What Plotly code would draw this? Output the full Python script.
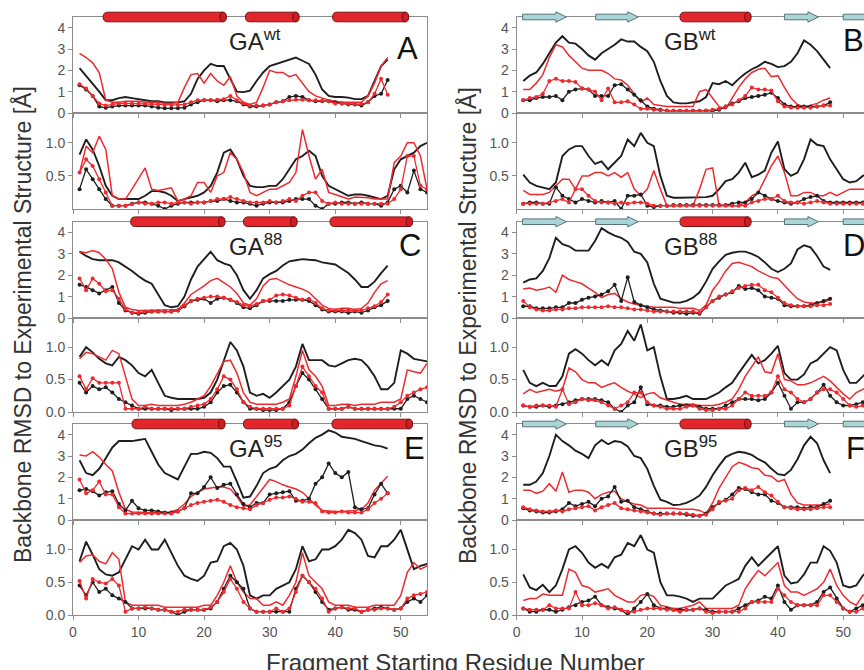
import plotly.graph_objects as go

# ---------------- data ----------------
# Top panels: fragment start 1..48 ; bottom panels: fragment start 1..54
A_top_black = [2.1, 1.75, 1.4, 1.0, 0.6, 0.6, 0.7, 0.75, 0.7, 0.65, 0.6, 0.55, 0.55, 0.5, 0.5, 0.5, 0.55, 0.9, 1.6, 2.0, 2.3, 2.2, 2.2, 1.6, 1.0, 0.98, 1.05, 1.5, 1.9, 2.2, 2.3, 2.4, 2.5, 2.6, 2.45, 2.3, 1.8, 1.1, 0.8, 0.75, 0.75, 0.72, 0.65, 0.65, 0.8, 1.5, 2.2, 2.5]
A_top_red = [2.8, 2.6, 2.35, 1.9, 0.6, 0.5, 0.5, 0.55, 0.55, 0.55, 0.5, 0.5, 0.5, 0.45, 0.45, 0.5, 1.2, 1.8, 1.85, 1.4, 1.85, 1.5, 1.3, 1.7, 0.8, 0.5, 0.4, 0.5, 1.2, 2.0, 1.9, 1.9, 1.7, 1.8, 1.4, 1.0, 0.8, 0.7, 0.6, 0.55, 0.5, 0.5, 0.5, 0.5, 0.8, 1.4, 2.2, 2.6]
A_top_black_dots = [1.3, 1.1, 0.8, 0.3, 0.25, 0.3, 0.35, 0.35, 0.35, 0.35, 0.35, 0.3, 0.25, 0.22, 0.22, 0.22, 0.25, 0.4, 0.5, 0.6, 0.6, 0.55, 0.6, 0.6, 0.55, 0.4, 0.3, 0.3, 0.35, 0.4, 0.5, 0.55, 0.75, 0.8, 0.75, 0.6, 0.55, 0.55, 0.55, 0.5, 0.45, 0.4, 0.4, 0.35, 0.5, 0.8, 0.9, 1.55]
A_top_red_dots = [1.35, 1.15, 0.8, 0.45, 0.35, 0.4, 0.45, 0.45, 0.45, 0.45, 0.45, 0.42, 0.4, 0.38, 0.38, 0.38, 0.4, 0.5, 0.6, 0.6, 0.6, 0.62, 0.65, 0.8, 0.6, 0.45, 0.35, 0.35, 0.35, 0.4, 0.5, 0.55, 0.6, 0.62, 0.62, 0.6, 0.6, 0.58, 0.55, 0.45, 0.45, 0.42, 0.42, 0.42, 0.5, 0.9, 1.6, 0.85]
A_bot_black = [0.82, 1.05, 0.9, 0.65, 0.35, 0.2, 0.15, 0.15, 0.15, 0.15, 0.2, 0.27, 0.27, 0.25, 0.2, 0.12, 0.15, 0.17, 0.2, 0.25, 0.35, 0.55, 0.85, 0.9, 0.75, 0.5, 0.35, 0.33, 0.33, 0.35, 0.35, 0.45, 0.6, 0.75, 0.8, 0.88, 0.8, 0.5, 0.35, 0.3, 0.25, 0.2, 0.22, 0.22, 0.2, 0.17, 0.15, 0.2, 0.6, 0.75, 0.8, 0.85, 0.95, 1.0]
A_bot_red = [0.55, 0.95, 0.85, 1.1, 0.9, 0.2, 0.15, 0.15, 0.3, 0.45, 0.62, 0.3, 0.28, 0.3, 0.32, 0.12, 0.15, 0.2, 0.4, 0.4, 0.25, 0.5, 0.55, 0.85, 0.75, 0.55, 0.25, 0.2, 0.25, 0.3, 0.3, 0.35, 0.4, 0.55, 1.2, 0.8, 0.45, 0.6, 0.25, 0.22, 0.18, 0.15, 0.18, 0.18, 0.17, 0.15, 0.15, 0.15, 0.7, 0.8, 1.0, 1.0, 0.8, 0.3]
A_bot_black_dots = [0.3, 0.6, 0.45, 0.3, 0.15, 0.05, 0.05, 0.05, 0.08, 0.1, 0.1, 0.08, 0.05, 0.0, 0.05, 0.08, 0.1, 0.1, 0.1, 0.1, 0.12, 0.12, 0.15, 0.12, 0.1, 0.1, 0.08, 0.05, 0.08, 0.1, 0.1, 0.1, 0.12, 0.15, 0.15, 0.15, 0.05, 0.0, 0.08, 0.08, 0.1, 0.1, 0.08, 0.1, 0.08, 0.08, 0.05, 0.1, 0.3, 0.35, 0.25, 0.58, 0.3, 0.25]
A_bot_red_dots = [0.55, 0.75, 0.65, 0.45, 0.25, 0.05, 0.05, 0.05, 0.07, 0.1, 0.08, 0.08, 0.1, 0.1, 0.08, 0.1, 0.1, 0.08, 0.1, 0.1, 0.12, 0.15, 0.15, 0.18, 0.15, 0.12, 0.1, 0.1, 0.1, 0.12, 0.1, 0.12, 0.15, 0.12, 0.2, 0.25, 0.25, 0.12, 0.08, 0.1, 0.08, 0.08, 0.08, 0.08, 0.08, 0.08, 0.08, 0.08, 0.15, 0.3, 0.8, 0.8, 0.35, 0.3]

B_top_black = [1.5, 1.75, 1.9, 2.3, 2.8, 3.3, 3.6, 3.3, 3.25, 3.0, 2.7, 2.5, 2.8, 3.0, 3.2, 3.45, 3.35, 3.35, 3.1, 2.9, 2.4, 1.5, 0.8, 0.5, 0.45, 0.45, 0.5, 0.55, 0.75, 1.4, 1.35, 1.5, 1.3, 1.6, 1.85, 2.05, 2.2, 2.4, 2.3, 2.15, 2.2, 2.4, 2.8, 3.4, 3.2, 2.9, 2.5, 2.1]
B_top_red = [1.1, 1.1, 1.4, 1.8, 2.6, 3.2, 3.1, 2.7, 2.4, 2.1, 2.0, 2.0, 2.0, 1.85, 1.6, 1.55, 1.3, 0.9, 0.5, 0.7, 0.4, 0.35, 0.3, 0.3, 0.3, 0.3, 0.3, 1.0, 1.1, 0.7, 0.3, 0.2, 0.7, 1.2, 1.6, 1.9, 2.05, 2.1, 1.7, 1.75, 1.2, 0.7, 0.4, 0.3, 0.35, 0.45, 0.6, 0.7]
B_top_black_dots = [0.6, 0.6, 0.7, 0.75, 0.75, 0.8, 0.6, 1.0, 1.1, 1.15, 1.1, 0.8, 0.8, 0.8, 1.3, 1.35, 1.1, 0.85, 0.6, 0.3, 0.2, 0.15, 0.1, 0.1, 0.1, 0.1, 0.1, 0.1, 0.1, 0.1, 0.15, 0.3, 0.45, 0.55, 0.7, 0.75, 0.8, 0.85, 0.95, 0.7, 0.4, 0.3, 0.3, 0.3, 0.3, 0.3, 0.35, 0.5]
B_top_red_dots = [0.6, 0.7, 0.75, 0.9, 1.5, 1.6, 1.5, 1.5, 1.45, 1.15, 1.1, 1.0, 0.6, 1.15, 0.5, 0.5, 0.55, 0.4, 0.2, 0.2, 0.15, 0.12, 0.12, 0.1, 0.1, 0.1, 0.1, 0.1, 0.12, 0.15, 0.2, 0.3, 0.4, 0.6, 0.8, 1.2, 1.1, 1.1, 1.05, 0.55, 0.3, 0.25, 0.25, 0.25, 0.25, 0.3, 0.35, 0.35]
B_bot_black = [0.52, 0.4, 0.35, 0.33, 0.3, 0.4, 0.8, 0.9, 0.95, 0.95, 0.8, 0.68, 0.72, 0.6, 0.7, 0.8, 1.05, 0.95, 1.15, 1.0, 0.95, 0.5, 0.2, 0.17, 0.17, 0.17, 0.17, 0.17, 0.18, 0.2, 0.3, 0.42, 0.45, 0.55, 0.7, 0.48, 0.52, 0.58, 0.85, 1.02, 0.6, 0.5, 0.55, 0.75, 1.05, 0.97, 0.95, 0.75, 0.6, 0.45, 0.4, 0.42, 0.5, 0.55]
B_bot_red = [0.28, 0.22, 0.22, 0.22, 0.25, 0.35, 0.45, 0.45, 0.3, 0.5, 0.5, 0.55, 0.55, 0.5, 0.55, 0.48, 0.55, 0.3, 0.2, 0.3, 0.58, 0.3, 0.05, 0.05, 0.05, 0.05, 0.05, 0.3, 0.6, 0.62, 0.05, 0.05, 0.05, 0.05, 0.1, 0.2, 0.25, 0.45, 0.65, 0.8, 0.55, 0.2, 0.2, 0.25, 0.25, 0.2, 0.2, 0.25, 0.2, 0.25, 0.3, 0.3, 0.3, 0.3]
B_bot_black_dots = [0.08, 0.1, 0.1, 0.08, 0.08, 0.33, 0.2, 0.15, 0.1, 0.15, 0.12, 0.1, 0.12, 0.1, 0.12, 0.0, 0.2, 0.2, 0.22, 0.05, 0.03, 0.05, 0.05, 0.06, 0.06, 0.06, 0.06, 0.06, 0.06, 0.06, 0.06, 0.06, 0.08, 0.1, 0.1, 0.15, 0.25, 0.2, 0.15, 0.12, 0.1, 0.08, 0.1, 0.15, 0.18, 0.2, 0.12, 0.1, 0.1, 0.1, 0.1, 0.1, 0.1, 0.1]
B_bot_red_dots = [0.08, 0.08, 0.08, 0.08, 0.1, 0.12, 0.15, 0.1, 0.3, 0.3, 0.2, 0.12, 0.1, 0.1, 0.08, 0.1, 0.08, 0.1, 0.1, 0.08, 0.05, 0.05, 0.05, 0.05, 0.05, 0.05, 0.05, 0.05, 0.05, 0.05, 0.05, 0.05, 0.05, 0.05, 0.05, 0.1, 0.12, 0.15, 0.15, 0.2, 0.12, 0.1, 0.1, 0.08, 0.1, 0.12, 0.1, 0.08, 0.08, 0.08, 0.08, 0.08, 0.08, 0.08]

C_top_black = [3.1, 2.9, 2.75, 2.7, 2.7, 2.7, 2.6, 2.4, 2.2, 1.95, 1.75, 1.6, 1.1, 0.6, 0.5, 0.55, 1.0, 1.8, 2.4, 2.75, 3.1, 2.7, 2.55, 2.45, 2.0, 1.3, 0.9, 1.3, 1.85, 2.05, 2.2, 2.45, 2.65, 2.7, 2.75, 2.72, 2.7, 2.6, 2.55, 2.5, 2.3, 2.1, 1.8, 1.45, 1.45, 1.7, 2.1, 2.45]
C_top_red = [3.1, 3.05, 3.15, 3.05, 2.75, 2.3, 1.2, 0.5, 0.4, 0.35, 0.35, 0.35, 0.38, 0.38, 0.38, 0.4, 0.7, 1.1, 1.3, 1.5, 1.75, 1.85, 1.65, 1.45, 1.15, 0.7, 0.6, 0.9, 1.5, 1.8, 1.85, 1.7, 1.55, 1.45, 1.35, 1.2, 0.9, 0.6, 0.45, 0.4, 0.45, 0.45, 0.4, 0.45, 0.7, 1.2, 1.6, 1.75]
C_top_black_dots = [1.55, 1.45, 1.3, 1.15, 1.3, 1.45, 0.7, 0.35, 0.25, 0.2, 0.25, 0.3, 0.3, 0.3, 0.3, 0.35, 0.55, 0.8, 0.85, 0.9, 0.7, 0.9, 0.95, 0.85, 0.7, 0.5, 0.45, 0.6, 0.8, 0.8, 0.8, 0.8, 0.85, 0.85, 0.85, 0.8, 0.6, 0.4, 0.3, 0.3, 0.3, 0.25, 0.3, 0.25, 0.35, 0.5, 0.6, 0.8]
C_top_red_dots = [1.85, 1.3, 1.85, 1.6, 1.25, 1.3, 0.9, 0.4, 0.25, 0.25, 0.3, 0.3, 0.3, 0.3, 0.3, 0.35, 0.6, 0.8, 0.9, 0.95, 1.0, 1.0, 0.95, 0.85, 0.75, 0.6, 0.55, 0.65, 0.8, 0.85, 1.05, 1.1, 1.05, 0.95, 0.85, 0.9, 0.7, 0.45, 0.35, 0.35, 0.35, 0.35, 0.35, 0.35, 0.45, 0.55, 0.75, 1.1]
C_bot_black = [0.85, 1.0, 0.92, 0.82, 0.75, 0.72, 0.85, 0.8, 0.72, 0.6, 0.55, 0.65, 0.45, 0.25, 0.22, 0.2, 0.2, 0.2, 0.2, 0.22, 0.3, 0.5, 0.8, 1.08, 0.95, 0.7, 0.3, 0.25, 0.28, 0.22, 0.3, 0.4, 0.5, 0.7, 1.05, 0.8, 0.8, 0.8, 0.72, 0.7, 0.75, 0.8, 0.82, 0.8, 0.7, 0.55, 0.35, 0.35, 0.45, 0.95, 0.9, 0.82, 0.8, 0.78]
C_bot_red = [0.82, 0.92, 0.9, 0.85, 0.8, 0.95, 0.9, 0.55, 0.2, 0.1, 0.1, 0.12, 0.1, 0.1, 0.1, 0.1, 0.12, 0.15, 0.2, 0.25, 0.4, 0.6, 0.78, 0.8, 0.6, 0.3, 0.15, 0.12, 0.12, 0.12, 0.12, 0.15, 0.2, 0.55, 0.95, 0.65, 0.55, 0.4, 0.1, 0.1, 0.12, 0.12, 0.1, 0.12, 0.12, 0.12, 0.15, 0.15, 0.15, 0.2, 0.65, 0.62, 0.6, 0.75]
C_bot_black_dots = [0.45, 0.3, 0.4, 0.35, 0.38, 0.3, 0.2, 0.15, 0.1, 0.05, 0.05, 0.05, 0.05, 0.05, 0.03, 0.05, 0.05, 0.05, 0.05, 0.08, 0.15, 0.3, 0.4, 0.42, 0.3, 0.15, 0.05, 0.05, 0.03, 0.03, 0.03, 0.05, 0.15, 0.4, 0.6, 0.5, 0.35, 0.2, 0.05, 0.05, 0.05, 0.08, 0.05, 0.05, 0.05, 0.05, 0.05, 0.05, 0.05, 0.05, 0.2, 0.25, 0.2, 0.15]
C_bot_red_dots = [0.55, 0.35, 0.52, 0.45, 0.45, 0.45, 0.45, 0.05, 0.05, 0.05, 0.08, 0.05, 0.05, 0.05, 0.05, 0.05, 0.05, 0.08, 0.1, 0.12, 0.2, 0.35, 0.55, 0.5, 0.35, 0.15, 0.08, 0.05, 0.05, 0.05, 0.05, 0.05, 0.1, 0.4, 0.7, 0.55, 0.4, 0.3, 0.05, 0.05, 0.05, 0.08, 0.05, 0.05, 0.05, 0.05, 0.05, 0.05, 0.08, 0.15, 0.25, 0.3, 0.35, 0.38]

D_top_black = [1.65, 1.8, 1.85, 2.2, 2.8, 3.75, 3.45, 3.35, 3.15, 3.15, 3.15, 3.6, 4.2, 4.0, 3.85, 3.75, 3.55, 3.1, 3.0, 2.6, 1.6, 0.9, 0.8, 0.72, 0.72, 0.8, 0.95, 1.2, 1.7, 2.3, 2.65, 2.95, 3.05, 3.1, 3.1, 3.0, 2.85, 2.6, 2.3, 2.15, 2.3, 2.55, 3.2, 3.4, 3.3, 2.9, 2.4, 2.25]
D_top_red = [1.35, 1.4, 1.3, 1.35, 1.45, 1.2, 2.0, 1.8, 1.7, 1.6, 1.4, 1.2, 0.95, 1.1, 1.15, 0.9, 0.75, 0.65, 0.6, 0.55, 0.5, 0.5, 0.5, 0.5, 0.45, 0.45, 0.45, 0.35, 0.6, 1.3, 1.7, 2.2, 2.55, 2.6, 2.5, 2.4, 2.2, 2.05, 1.9, 1.85, 1.5, 1.2, 0.9, 0.75, 0.7, 0.7, 0.75, 0.85]
D_top_black_dots = [0.55, 0.55, 0.45, 0.45, 0.45, 0.5, 0.5, 0.7, 0.7, 0.85, 0.95, 1.0, 1.1, 1.25, 1.55, 0.8, 1.9, 0.75, 0.6, 0.5, 0.4, 0.35, 0.3, 0.25, 0.25, 0.2, 0.25, 0.2, 0.5, 0.8, 0.95, 1.1, 1.2, 1.5, 1.35, 1.4, 1.3, 1.0, 0.95, 0.9, 0.6, 0.55, 0.55, 0.55, 0.6, 0.7, 0.8, 0.9]
D_top_red_dots = [0.8, 0.5, 0.4, 0.35, 0.35, 0.4, 0.4, 0.45, 0.45, 0.5, 0.5, 0.5, 0.5, 0.55, 0.5, 0.5, 0.45, 0.4, 0.4, 0.35, 0.3, 0.3, 0.3, 0.3, 0.3, 0.3, 0.3, 0.25, 0.5, 0.8, 1.0, 1.1, 1.25, 1.4, 1.5, 1.55, 1.55, 1.3, 1.2, 0.95, 0.7, 0.6, 0.55, 0.55, 0.55, 0.6, 0.6, 0.65]
D_bot_black = [0.65, 0.45, 0.4, 0.45, 0.4, 0.4, 0.55, 0.9, 0.97, 0.9, 0.8, 0.72, 0.8, 0.72, 0.95, 1.05, 1.25, 1.1, 1.35, 0.95, 1.0, 0.55, 0.2, 0.2, 0.22, 0.25, 0.2, 0.2, 0.2, 0.25, 0.3, 0.38, 0.45, 0.6, 0.75, 0.88, 0.75, 0.8, 0.9, 1.02, 0.6, 0.5, 0.5, 0.58, 0.75, 0.8, 0.9, 1.0, 0.95, 0.65, 0.45, 0.45, 0.55, 0.65]
D_bot_red = [0.28, 0.35, 0.3, 0.32, 0.35, 0.32, 0.35, 0.68, 0.62, 0.5, 0.45, 0.45, 0.38, 0.42, 0.45, 0.38, 0.32, 0.28, 0.22, 0.28, 0.3, 0.22, 0.18, 0.15, 0.12, 0.12, 0.12, 0.1, 0.1, 0.1, 0.12, 0.15, 0.2, 0.35, 0.55, 0.7, 0.85, 0.62, 0.6, 0.9, 0.5, 0.48, 0.42, 0.42, 0.45, 0.5, 0.55, 0.48, 0.38, 0.28, 0.2, 0.3, 0.35, 0.4]
D_bot_black_dots = [0.1, 0.08, 0.08, 0.1, 0.08, 0.1, 0.12, 0.15, 0.18, 0.2, 0.2, 0.2, 0.18, 0.15, 0.05, 0.0, 0.1, 0.15, 0.38, 0.12, 0.1, 0.1, 0.08, 0.08, 0.1, 0.1, 0.1, 0.08, 0.05, 0.05, 0.05, 0.1, 0.15, 0.2, 0.2, 0.2, 0.18, 0.2, 0.3, 0.45, 0.25, 0.05, 0.15, 0.15, 0.2, 0.3, 0.42, 0.25, 0.15, 0.1, 0.1, 0.12, 0.15, 0.2]
D_bot_red_dots = [0.1, 0.08, 0.1, 0.1, 0.1, 0.08, 0.35, 0.12, 0.15, 0.2, 0.18, 0.18, 0.15, 0.1, 0.05, 0.1, 0.15, 0.3, 0.3, 0.15, 0.1, 0.08, 0.05, 0.05, 0.05, 0.08, 0.1, 0.05, 0.03, 0.03, 0.05, 0.05, 0.1, 0.2, 0.3, 0.25, 0.25, 0.25, 0.3, 0.55, 0.35, 0.3, 0.2, 0.15, 0.2, 0.3, 0.35, 0.35, 0.3, 0.2, 0.1, 0.08, 0.1, 0.15]

E_top_black = [2.8, 2.2, 2.1, 2.4, 2.9, 3.4, 3.7, 3.7, 3.7, 3.75, 3.8, 3.2, 2.6, 2.2, 2.05, 1.9, 2.5, 3.1, 3.1, 3.2, 3.15, 2.9, 2.5, 2.5, 1.8, 1.05, 1.1, 1.6, 2.2, 2.4, 2.5, 2.8, 3.0, 3.1, 3.3, 3.6, 3.85, 4.0, 4.2, 4.1, 3.9, 3.85, 3.8, 3.7, 3.6, 3.5, 3.45, 3.35]
E_top_red = [3.05, 3.0, 3.2, 2.95, 2.6, 2.3, 1.3, 0.5, 0.38, 0.35, 0.35, 0.35, 0.35, 0.35, 0.38, 0.5, 0.75, 1.1, 1.3, 1.45, 1.5, 1.55, 1.55, 1.45, 1.1, 0.65, 0.7, 1.1, 1.5, 1.9, 1.8, 1.65, 1.55, 1.45, 1.3, 1.0, 0.7, 0.45, 0.42, 0.4, 0.4, 0.42, 0.45, 0.5, 0.8, 1.4, 1.75, 2.05]
E_top_black_dots = [1.4, 1.45, 1.35, 1.15, 1.3, 1.35, 0.75, 0.45, 0.9, 0.55, 0.45, 0.45, 0.4, 0.35, 0.35, 0.4, 0.55, 1.25, 1.25, 1.55, 2.0, 1.5, 1.65, 1.7, 1.2, 0.75, 0.6, 0.8, 0.8, 1.2, 1.25, 1.3, 1.35, 0.9, 0.9, 1.0, 1.7, 2.0, 2.65, 2.2, 2.0, 2.25, 0.6, 0.5, 0.55, 1.2, 1.7, 1.25]
E_top_red_dots = [1.9, 1.25, 1.4, 1.8, 1.2, 1.2, 0.6, 0.3, 0.3, 0.3, 0.3, 0.3, 0.3, 0.3, 0.3, 0.4, 0.55, 0.7, 0.8, 0.85, 0.9, 0.95, 0.85, 0.7, 0.6, 0.55, 0.5, 0.7, 0.8, 0.95, 1.05, 1.05, 1.1, 1.0, 0.85, 0.85, 0.8, 0.4, 0.35, 0.35, 0.4, 0.35, 0.35, 0.35, 0.5, 0.8, 1.0, 1.25]
E_bot_black = [0.82, 1.12, 0.92, 0.7, 0.62, 0.6, 0.65, 0.85, 1.05, 1.0, 1.15, 1.0, 1.0, 1.15, 0.95, 0.75, 0.6, 0.55, 0.52, 0.6, 0.8, 0.82, 1.05, 1.1, 1.0, 0.75, 0.3, 0.25, 0.3, 0.3, 0.4, 0.45, 0.5, 0.7, 1.05, 0.82, 0.85, 1.0, 1.0, 1.05, 1.15, 1.3, 1.25, 1.15, 0.9, 0.88, 1.05, 1.05, 1.15, 1.3, 1.0, 0.7, 0.75, 0.78]
E_bot_red = [0.8, 0.9, 0.92, 0.82, 0.78, 0.95, 0.85, 0.2, 0.15, 0.15, 0.15, 0.15, 0.15, 0.12, 0.12, 0.12, 0.12, 0.12, 0.12, 0.15, 0.15, 0.3, 0.5, 0.75, 0.5, 0.35, 0.25, 0.25, 0.15, 0.15, 0.2, 0.15, 0.3, 0.5, 0.95, 0.6, 0.5, 0.4, 0.2, 0.15, 0.15, 0.15, 0.12, 0.12, 0.12, 0.15, 0.15, 0.15, 0.15, 0.3, 0.65, 0.8, 0.7, 0.75]
E_bot_black_dots = [0.45, 0.3, 0.5, 0.35, 0.4, 0.3, 0.25, 0.2, 0.1, 0.1, 0.1, 0.1, 0.08, 0.08, 0.05, 0.0, 0.05, 0.08, 0.08, 0.08, 0.1, 0.2, 0.4, 0.6, 0.5, 0.4, 0.1, 0.05, 0.05, 0.05, 0.05, 0.05, 0.05, 0.4, 0.6, 0.5, 0.35, 0.2, 0.08, 0.1, 0.12, 0.08, 0.08, 0.05, 0.08, 0.1, 0.12, 0.1, 0.08, 0.1, 0.2, 0.25, 0.2, 0.3]
E_bot_red_dots = [0.52, 0.25, 0.55, 0.5, 0.48, 0.55, 0.45, 0.05, 0.1, 0.1, 0.12, 0.1, 0.08, 0.08, 0.05, 0.05, 0.08, 0.08, 0.08, 0.08, 0.12, 0.2, 0.35, 0.55, 0.4, 0.2, 0.1, 0.05, 0.05, 0.05, 0.1, 0.05, 0.1, 0.35, 0.6, 0.5, 0.4, 0.25, 0.05, 0.1, 0.12, 0.1, 0.1, 0.05, 0.08, 0.08, 0.1, 0.1, 0.08, 0.1, 0.25, 0.3, 0.32, 0.35]

F_top_black = [1.65, 1.65, 1.8, 2.2, 3.0, 4.0, 3.7, 3.5, 3.25, 3.1, 2.9, 3.5, 3.75, 3.55, 3.7, 3.65, 3.45, 3.0, 2.9, 2.4, 1.6, 0.95, 0.85, 0.7, 0.72, 0.8, 0.95, 1.15, 1.55, 2.1, 2.55, 2.95, 3.1, 3.2, 3.15, 3.05, 2.85, 2.7, 2.4, 2.15, 2.1, 2.35, 2.85, 3.5, 3.9, 3.6, 2.8, 2.2]
F_top_red = [1.4, 1.4, 1.25, 1.35, 1.7, 1.35, 2.25, 1.3, 1.4, 1.4, 1.3, 1.0, 1.2, 1.3, 1.35, 1.0, 0.85, 0.75, 0.7, 0.55, 0.55, 0.55, 0.55, 0.55, 0.5, 0.5, 0.5, 0.45, 0.3, 0.8, 1.5, 2.0, 2.5, 2.7, 2.6, 2.45, 2.4, 2.1, 2.05, 1.8, 1.9, 1.2, 0.8, 0.7, 0.7, 0.7, 0.7, 0.75]
F_top_black_dots = [0.55, 0.45, 0.4, 0.35, 0.35, 0.4, 0.5, 0.8, 0.65, 0.75, 0.85, 0.65, 1.0, 1.1, 1.55, 0.85, 0.9, 0.6, 0.5, 0.4, 0.3, 0.3, 0.3, 0.3, 0.3, 0.25, 0.2, 0.2, 0.3, 0.6, 0.8, 0.95, 1.2, 1.5, 1.45, 1.3, 1.2, 1.2, 0.9, 0.8, 0.6, 0.6, 0.6, 0.55, 0.6, 0.6, 0.75, 0.9]
F_top_red_dots = [0.6, 0.5, 0.45, 0.4, 0.4, 0.45, 0.4, 0.5, 0.55, 0.6, 0.65, 0.45, 0.6, 0.7, 0.8, 0.55, 0.5, 0.45, 0.4, 0.35, 0.3, 0.25, 0.3, 0.3, 0.3, 0.3, 0.25, 0.2, 0.25, 0.5, 0.85, 0.9, 1.0, 1.4, 1.5, 1.4, 1.55, 1.3, 1.15, 0.85, 0.6, 0.55, 0.5, 0.5, 0.5, 0.55, 0.6, 0.6]
F_bot_black = [0.62, 0.42, 0.38, 0.46, 0.35, 0.45, 0.7, 1.0, 1.05, 0.95, 0.8, 0.72, 0.78, 0.72, 0.88, 0.92, 1.1, 1.05, 1.22, 1.0, 0.95, 0.5, 0.3, 0.3, 0.28, 0.25, 0.2, 0.25, 0.25, 0.25, 0.35, 0.45, 0.5, 0.55, 0.75, 0.88, 0.75, 0.85, 0.95, 1.05, 0.6, 0.48, 0.5, 0.62, 0.8, 0.8, 1.05, 0.98, 0.8, 0.45, 0.42, 0.45, 0.6, 0.7]
F_bot_red = [0.22, 0.25, 0.25, 0.32, 0.3, 0.3, 0.3, 0.7, 0.65, 0.45, 0.42, 0.35, 0.38, 0.4, 0.3, 0.25, 0.2, 0.2, 0.3, 0.32, 0.28, 0.15, 0.12, 0.1, 0.1, 0.12, 0.15, 0.2, 0.1, 0.1, 0.1, 0.1, 0.1, 0.15, 0.4, 0.55, 0.68, 0.6, 0.7, 0.8, 0.45, 0.35, 0.35, 0.3, 0.35, 0.4, 0.5, 0.7, 0.45, 0.3, 0.2, 0.15, 0.3, 0.35]
F_bot_black_dots = [0.1, 0.05, 0.05, 0.08, 0.08, 0.05, 0.08, 0.12, 0.15, 0.2, 0.22, 0.28, 0.15, 0.12, 0.1, 0.08, 0.0, 0.1, 0.2, 0.32, 0.15, 0.1, 0.1, 0.08, 0.08, 0.08, 0.08, 0.1, 0.08, 0.05, 0.05, 0.05, 0.05, 0.1, 0.15, 0.2, 0.22, 0.28, 0.25, 0.45, 0.2, 0.08, 0.15, 0.15, 0.15, 0.2, 0.35, 0.42, 0.25, 0.1, 0.05, 0.1, 0.15, 0.2]
F_bot_red_dots = [0.1, 0.08, 0.08, 0.08, 0.15, 0.1, 0.1, 0.1, 0.35, 0.15, 0.15, 0.18, 0.15, 0.1, 0.12, 0.08, 0.05, 0.05, 0.08, 0.1, 0.1, 0.1, 0.08, 0.08, 0.05, 0.08, 0.08, 0.1, 0.05, 0.03, 0.05, 0.05, 0.05, 0.05, 0.1, 0.2, 0.2, 0.2, 0.2, 0.4, 0.3, 0.2, 0.15, 0.15, 0.15, 0.15, 0.3, 0.3, 0.2, 0.1, 0.05, 0.05, 0.1, 0.12]

# secondary-structure elements (residue ranges) shown above the top panels
GA_wt_helices = [(4.6, 22.9), (26.3, 34.0), (39.6, 50.7)]
GA_88_helices = [(8.8, 22.7), (26.0, 33.7), (39.2, 51.3)]
GA_95_helices = [(9.0, 22.7), (26.0, 33.9), (39.5, 51.3)]
GB_helices = [(25.0, 35.4)]
GB_strands = [(0.9, 7.6), (12.1, 18.6), (41.0, 46.2), (50.0, 55.5)]

panel_names = {"A": ("GA", "wt"), "B": ("GB", "wt"), "C": ("GA", "88"),
               "D": ("GB", "88"), "E": ("GA", "95"), "F": ("GB", "95")}

series = {
    "A": (A_top_black, A_top_red, A_top_black_dots, A_top_red_dots, A_bot_black, A_bot_red, A_bot_black_dots, A_bot_red_dots),
    "B": (B_top_black, B_top_red, B_top_black_dots, B_top_red_dots, B_bot_black, B_bot_red, B_bot_black_dots, B_bot_red_dots),
    "C": (C_top_black, C_top_red, C_top_black_dots, C_top_red_dots, C_bot_black, C_bot_red, C_bot_black_dots, C_bot_red_dots),
    "D": (D_top_black, D_top_red, D_top_black_dots, D_top_red_dots, D_bot_black, D_bot_red, D_bot_black_dots, D_bot_red_dots),
    "E": (E_top_black, E_top_red, E_top_black_dots, E_top_red_dots, E_bot_black, E_bot_red, E_bot_black_dots, E_bot_red_dots),
    "F": (F_top_black, F_top_red, F_top_black_dots, F_top_red_dots, F_bot_black, F_bot_red, F_bot_black_dots, F_bot_red_dots),
}
helices = {"A": GA_wt_helices, "C": GA_88_helices, "E": GA_95_helices,
           "B": GB_helices, "D": GB_helices, "F": GB_helices}
strands = {"A": [], "C": [], "E": [], "B": GB_strands, "D": GB_strands, "F": GB_strands}

# ---------------- styling / layout ----------------
OFF = 0          # body margin is removed by the post script below
W, H = 864 - OFF, 670 - OFF
FONT = "Liberation Sans, Arial, Helvetica, sans-serif"
BLACK = "#1e1e1e"
RED = "#ee2a2e"
FRAME = "#8c8c8c"
TICKC = "#555555"


def px(xs):
    return (xs - OFF) / W


def py(ys):
    return 1 - (ys - OFF) / H


col_px = {0: (73.0, 427.0), 1: (516.7, 864.0)}
col_range = {0: [0, 54], 1: [0, (864.0 - 516.7) / 6.53]}
row_px = [(17, 113), (113, 209), (221.7, 318), (318, 412), (424, 520), (520, 615)]
layout_pos = {"A": (0, 0), "C": (0, 1), "E": (0, 2), "B": (1, 0), "D": (1, 1), "F": (1, 2)}
letter_pos = {"A": (0.91, 0.67), "C": (0.915, 0.75), "E": (0.93, 0.74),
              "B": (0.935, 0.76), "D": (0.935, 0.75), "F": (0.942, 0.74)}

fig = go.Figure()
layout = dict(width=W, height=H, margin=dict(l=0, r=0, t=0, b=0, autoexpand=False),
              paper_bgcolor="white", plot_bgcolor="white", showlegend=False,
              font=dict(family=FONT, color=TICKC, size=14))
shapes, annotations = [], []


def ax_names(i):
    return ("x" if i == 1 else f"x{i}", "y" if i == 1 else f"y{i}",
            "xaxis" if i == 1 else f"xaxis{i}", "yaxis" if i == 1 else f"yaxis{i}")


for key, (col, pair) in layout_pos.items():
    s = series[key]
    for half in (0, 1):
        row = pair * 2 + half
        i = col * 6 + row + 1
        xr, yr, xk, yk = ax_names(i)
        x0p, x1p = col_px[col]
        t, b = row_px[row]
        layout[xk] = dict(domain=[px(x0p), min(1.0, px(x1p))], range=col_range[col], anchor=yr,
                          showline=True, linecolor=FRAME, linewidth=1, mirror=True,
                          ticks="outside", ticklen=4, tickcolor=FRAME,
                          tickvals=[0, 10, 20, 30, 40, 50], showticklabels=(row == 5),
                          tickfont=dict(size=14, color=TICKC, family=FONT),
                          showgrid=False, zeroline=False, fixedrange=True)
        if half == 0:
            yrange, tv, tt = [0, 4.5], [0, 1, 2, 3, 4], ["0", "1", "2", "3", "4"]
        else:
            yrange = [0, 1.45]
            if pair == 0:
                tv, tt = [0.5, 1.0], ["0.5", "1.0"]
            else:
                tv, tt = [0.0, 0.5, 1.0], ["0.0", "0.5", "1.0"]
        layout[yk] = dict(domain=[py(b), py(t)], range=yrange, anchor=xr,
                          showline=True, linecolor=FRAME, linewidth=1, mirror=(col == 0),
                          ticks="outside", ticklen=4, tickcolor=FRAME,
                          tickvals=tv, ticktext=tt,
                          tickfont=dict(size=14, color=TICKC, family=FONT),
                          showgrid=False, zeroline=False, fixedrange=True)
        vals = s[0:4] if half == 0 else s[4:8]
        styles = [(BLACK, 1.9, False), (RED, 1.5, False), (BLACK, 1.3, True), (RED, 1.3, True)]
        for v, (c, w, mk) in zip(vals, styles):
            fig.add_trace(go.Scatter(
                x=list(range(1, len(v) + 1)), y=v, xaxis=xr, yaxis=yr,
                mode="lines+markers" if mk else "lines",
                line=dict(color=c, width=w),
                marker=dict(size=4, color=c) if mk else None,
                hoverinfo="skip"))

        if half == 0:
            ytop = py(t)
            # secondary structure cartoon
            hh = 4.8 / H
            for (a, e) in helices[key]:
                r = 0.7
                path = (f"M {a + r},{ytop - hh} L {e},{ytop - hh} L {e},{ytop + hh} "
                        f"L {a + r},{ytop + hh} Q {a},{ytop + hh} {a},{ytop} "
                        f"Q {a},{ytop - hh} {a + r},{ytop - hh} Z")
                shapes.append(dict(type="path", path=path, xref=xr, yref="paper",
                                   fillcolor="#e3262b", line=dict(color="#7a1414", width=1),
                                   layer="above"))
                shapes.append(dict(type="circle", xref=xr, yref="paper",
                                   x0=e - 0.5, x1=e + 0.5, y0=ytop - hh, y1=ytop + hh,
                                   fillcolor="#d01c22", line=dict(color="#6a1010", width=1),
                                   layer="above"))
            hb, hd, hl = 2.8 / H, 5.2 / H, 1.6
            for (a, e) in strands[key]:
                path = (f"M {a},{ytop - hb} L {e - hl},{ytop - hb} L {e - hl},{ytop - hd} "
                        f"L {e},{ytop} L {e - hl},{ytop + hd} L {e - hl},{ytop + hb} "
                        f"L {a},{ytop + hb} Z")
                shapes.append(dict(type="path", path=path, xref=xr, yref="paper",
                                   fillcolor="#a9d4d8", line=dict(color="#5b7274", width=1),
                                   layer="above"))
            name, sup = panel_names[key]
            annotations.append(dict(text=f"{name}<sup>{sup}</sup>", xref=f"{xr} domain",
                                    yref=f"{yr} domain", x=0.515 if col == 0 else 0.5, y=0.76,
                                    xanchor="center", yanchor="middle", showarrow=False,
                                    font=dict(size=24, color="#222222", family=FONT)))
            lx, ly = letter_pos[key]
            annotations.append(dict(text=key, xref=f"{xr} domain", yref=f"{yr} domain",
                                    x=lx, y=ly, xanchor="left", yanchor="middle",
                                    showarrow=False,
                                    font=dict(size=31, color="#111111", family=FONT)))

ytitle = "Backbone RMSD to Experimental Structure [Å]"
for xc in (23, 468):
    annotations.append(dict(text=ytitle, xref="paper", yref="paper", x=px(xc), y=py(325),
                            xanchor="center", yanchor="middle", textangle=-90, showarrow=False,
                            font=dict(size=23, color="#333333", family=FONT)))
annotations.append(dict(text="Fragment Starting Residue Number", xref="paper", yref="paper",
                        x=px(455), y=py(662), xanchor="center", yanchor="middle",
                        showarrow=False, font=dict(size=24, color="#333333", family=FONT)))

layout["shapes"] = shapes
layout["annotations"] = annotations
fig.update_layout(**layout)
fig.write_html("out.html",
               config={"displayModeBar": False, "staticPlot": True},
               post_script="document.body.style.margin='0';"
                           "document.documentElement.style.overflow='hidden';"
                           "document.body.style.overflow='hidden';")
